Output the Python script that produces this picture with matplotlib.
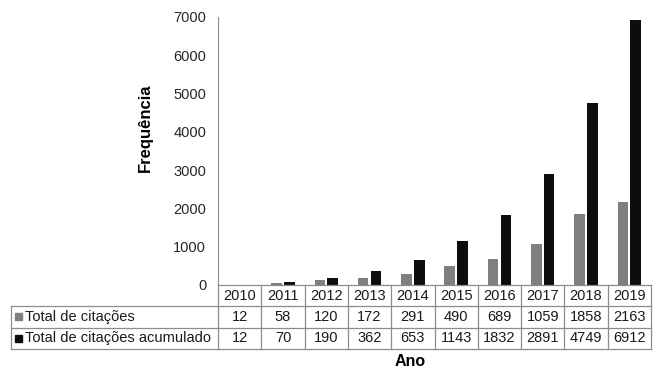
import matplotlib
matplotlib.use("Agg")
import matplotlib.pyplot as plt
from matplotlib.patches import Rectangle
from matplotlib.lines import Line2D
import numpy as np

plt.rcParams['font.family'] = ['Liberation Sans', 'DejaVu Sans']

years = ['2010', '2011', '2012', '2013', '2014', '2015', '2016', '2017', '2018', '2019']
total = [12, 58, 120, 172, 291, 490, 689, 1059, 1858, 2163]
acumulado = [12, 70, 190, 362, 653, 1143, 1832, 2891, 4749, 6912]
series_names = ['Total de citações', 'Total de citações acumulado']
series_colors = ['#7f7f7f', '#0d0d0d']
yticks = [0, 1000, 2000, 3000, 4000, 5000, 6000, 7000]

W, H = 653, 367
fig = plt.figure(figsize=(W / 100, H / 100), dpi=100)
ax_l, ax_r, ax_b, ax_t = 218, 651, 285, 17
ax = fig.add_axes([ax_l / W, 1 - ax_b / H, (ax_r - ax_l) / W, (ax_b - ax_t) / H])

x = np.arange(len(years))
bw = 0.245
gap = 0.05
ax.bar(x - (bw + gap) / 2, total, width=bw, color=series_colors[0], zorder=2)
ax.bar(x + (bw + gap) / 2, acumulado, width=bw, color=series_colors[1], zorder=2)

ax.set_xlim(-0.5, len(years) - 0.5)
ax.set_ylim(0, 7000)
ax.set_yticks(yticks)
ax.set_yticklabels([str(v) for v in yticks], fontsize=10.5, color='#262626')
ax.tick_params(axis='y', length=0, pad=8.5)
ax.set_xticks([])
for s in ['top', 'right', 'bottom']:
    ax.spines[s].set_visible(False)
ax.spines['left'].set_color('#8c8c8c')


def fx(px):
    return px / W


def fy(py):
    return 1 - py / H


fig.text(fx(145), fy(128), 'Frequência', fontsize=12, fontweight='bold',
         rotation=90, ha='center', va='center')


def hline(x0, x1, y):
    fig.add_artist(Line2D([fx(x0), fx(x1)], [fy(y), fy(y)], color='#8c8c8c', lw=0.9))


def vline(x, y0, y1):
    fig.add_artist(Line2D([fx(x), fx(x)], [fy(y0), fy(y1)], color='#8c8c8c', lw=0.9))


# data table drawn on the figure, aligned with axes categories
tbl_left = 11
row_h = 21.3
y0 = ax_b
y_rows = [y0, y0 + row_h, y0 + 2 * row_h, y0 + 3 * row_h]
col_w = (ax_r - ax_l) / len(years)
col_edges = [ax_l + i * col_w for i in range(len(years) + 1)]

hline(ax_l, ax_r, y_rows[0])
for yy in y_rows[1:]:
    hline(tbl_left, ax_r, yy)
for xe in col_edges:
    vline(xe, y_rows[0], y_rows[3])
vline(tbl_left, y_rows[1], y_rows[3])

fs = 10.5
tc = '#1a1a1a'
for i, yr in enumerate(years):
    xc = (col_edges[i] + col_edges[i + 1]) / 2
    fig.text(fx(xc), fy((y_rows[0] + y_rows[1]) / 2), yr, ha='center', va='center',
             fontsize=fs, color=tc)
    for r, vals in enumerate([total, acumulado]):
        fig.text(fx(xc), fy((y_rows[r + 1] + y_rows[r + 2]) / 2), str(vals[i]),
                 ha='center', va='center', fontsize=fs, color=tc)

for r, (name, col) in enumerate(zip(series_names, series_colors)):
    yc = (y_rows[r + 1] + y_rows[r + 2]) / 2
    sz = 7
    fig.add_artist(Rectangle((fx(15), fy(yc + sz / 2)), sz / W, sz / H,
                             transform=fig.transFigure, color=col))
    fig.text(fx(25), fy(yc), name, ha='left', va='center', fontsize=fs, color=tc)

fig.text(fx(410), fy(361), 'Ano', fontsize=11.5, fontweight='bold',
         ha='center', va='center')

fig.savefig('out.png', dpi=100)
